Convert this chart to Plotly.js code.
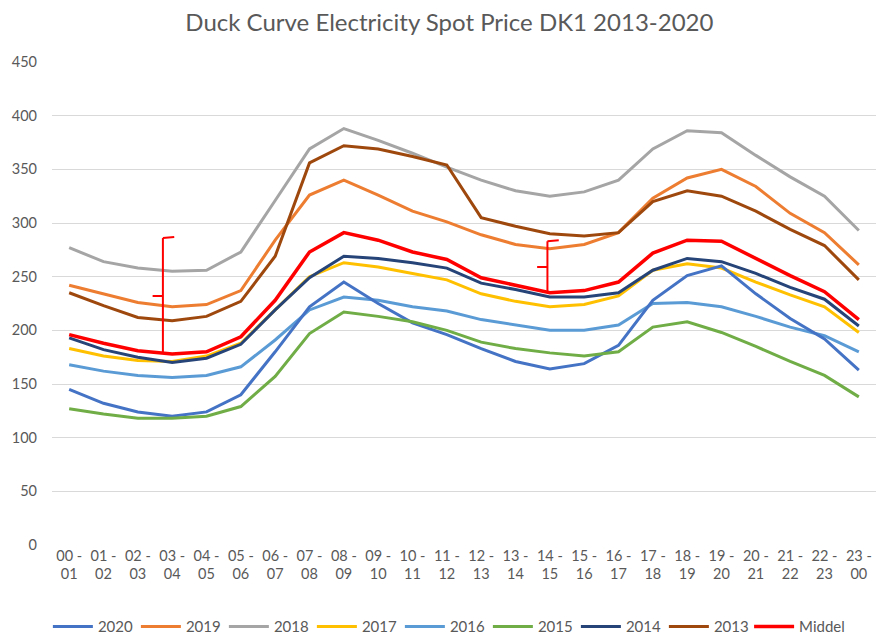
<!DOCTYPE html>
<html>
<head>
<meta charset="utf-8">
<script src="https://cdn.plot.ly/plotly-3.0.1.min.js"></script>
<style>html,body{margin:0;padding:0;background:#fff;}#chart{width:876px;height:634px;}</style>
</head>
<body>
<div id="chart"></div>
<script>
const hours = ["00 -<br>01","01 -<br>02","02 -<br>03","03 -<br>04","04 -<br>05","05 -<br>06","06 -<br>07","07 -<br>08","08 -<br>09","09 -<br>10","10 -<br>11","11 -<br>12","12 -<br>13","13 -<br>14","14 -<br>15","15 -<br>16","16 -<br>17","17 -<br>18","18 -<br>19","19 -<br>20","20 -<br>21","21 -<br>22","22 -<br>23","23 -<br>00"];

const y2020 = [145,132,124,120,124,140,180,222,245,225,207,196,183,171,164,169,186,228,251,260,234,211,192,163];
const y2019 = [242,234,226,222,224,237,284,326,340,326,311,301,289,280,276,280,291,323,342,350,334,309,291,261];
const y2018 = [277,264,258,255,256,273,321,369,388,377,365,352,340,330,325,329,340,369,386,384,363,343,325,293];
const y2017 = [183,176,172,171,176,188,219,250,263,259,253,247,234,227,222,224,232,256,262,258,245,233,222,198];
const y2016 = [168,162,158,156,158,166,191,219,231,228,222,218,210,205,200,200,205,225,226,222,213,203,195,180];
const y2015 = [127,122,118,118,120,129,157,197,217,213,208,200,189,183,179,176,180,203,208,198,185,171,158,138];
const y2014 = [193,182,175,170,174,187,219,249,269,267,263,258,244,238,231,231,235,256,267,264,253,240,229,204];
const yMiddel = [196,188,181,178,180,194,228,273,291,284,273,266,249,242,235,237,245,272,284,283,267,251,236,210];
const y2013 = [235,223,212,209,213,227,269,356,372,369,362,354,305,297,290,288,291,320,330,325,311,294,279,247];

const seriesNames = ["2020","2019","2018","2017","2016","2015","2014","2013","Middel"];
const seriesData = [y2020,y2019,y2018,y2017,y2016,y2015,y2014,y2013,yMiddel];
const seriesColors = ["#4472C4","#ED7D31","#A5A5A5","#FFC000","#5B9BD5","#70AD47","#264478","#9E480E","#FF0000"];
const seriesWidths = [3,3,3,3,3,3,3,3,3.5];
// draw order: Middel on top of years
const drawOrder = [2,1,7,4,3,6,0,5,8];

const yTicks = [0,50,100,150,200,250,300,350,400,450];

// red bracket annotations (category index position, values)
const bracketX = [2.73, 13.93];
const bracketTop = [286, 283];
const bracketMid = [232, 259];
const bracketBottom = [178, 236];

const traces = [];
seriesNames.forEach((n,i)=>{
  traces.push({
    type:'scatter', mode:'lines', name:n,
    x: hours, y: seriesData[i],
    line:{color:seriesColors[i], width:seriesWidths[i]},
    legendrank: i+1,
    legend: n === 'Middel' ? 'legend2' : 'legend'
  });
});
const ordered = drawOrder.map(i=>traces[i]);

const shapes = [];
bracketX.forEach((bx,i)=>{
  const st = {color:'#FF0000', width:2};
  shapes.push({type:'line', xref:'x', yref:'y', x0:bx, x1:bx, y0:bracketBottom[i], y1:bracketTop[i], line:st});
  shapes.push({type:'line', xref:'x', yref:'y', x0:bx, x1:bx+0.33, y0:bracketTop[i], y1:bracketTop[i]+1, line:st});
  shapes.push({type:'line', xref:'x', yref:'y', x0:bx-0.3, x1:bx, y0:bracketMid[i], y1:bracketMid[i], line:st});
});

const legendCommon = {orientation:'h', yanchor:'top', y:-0.135, font:{size:15, color:'#595959'}, itemwidth:40, traceorder:'normal', tracegroupgap:0, bgcolor:'rgba(0,0,0,0)'};

const layout = {
  width:876, height:634,
  margin:{l:52, r:0, t:62, b:89, autoexpand:false},
  paper_bgcolor:'#ffffff', plot_bgcolor:'#ffffff',
  font:{family:'Lato, "Liberation Sans", sans-serif', color:'#595959', size:14},
  title:{text:'Duck Curve Electricity Spot Price DK1 2013-2020', x:0.513, xanchor:'center', xref:'container', y:0.965, yanchor:'middle', font:{size:24, color:'#595959'}},
  xaxis:{type:'category', categoryorder:'array', categoryarray:hours, range:[-0.5,23.5], automargin:false, showgrid:false, zeroline:false, showline:false, ticks:'', tickfont:{size:14.5, color:'#595959'}, fixedrange:true},
  yaxis:{range:[0,450], automargin:false, tickvals:yTicks, ticktext:yTicks.map(String), showgrid:true, gridcolor:'#D9D9D9', gridwidth:1, zeroline:false, showline:false, ticks:'', ticklabelstandoff:14, tickfont:{size:14.5, color:'#595959'}, fixedrange:true},
  legend:Object.assign({}, legendCommon, {x:-0.005, xanchor:'left', entrywidth:33, entrywidthmode:'pixels'}),
  legend2:Object.assign({}, legendCommon, {x:0.846, xanchor:'left'}),
  shapes: shapes,
  showlegend:true
};

Plotly.newPlot('chart', ordered, layout, {displayModeBar:false, staticPlot:true});
</script>
</body>
</html>
